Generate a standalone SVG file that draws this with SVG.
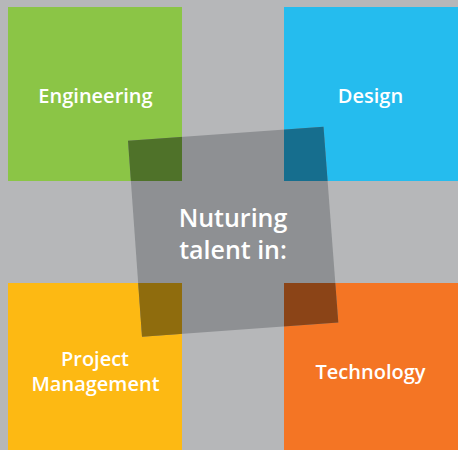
<svg xmlns="http://www.w3.org/2000/svg" width="458" height="450" viewBox="0 0 458 450">
<style>
.lbl{font-family:"Open Sans","Noto Sans","DejaVu Sans",sans-serif;font-weight:600;fill:#ffffff;text-anchor:middle}
.sm{font-size:20px}
.big{font-size:25px}
</style>
<defs>
<clipPath id="rot"><polygon points="128,140.7 323.5,126.7 338.3,322.5 142,336.7"/></clipPath>
</defs>
<rect width="458" height="450" fill="#b6b7b9"/>
<g id="engineering">
<rect x="8" y="7" width="174" height="174" fill="#8bc546"/>
<text class="lbl sm" x="95.5" y="103">Engineering</text>
</g>
<g id="design">
<rect x="284" y="7" width="174" height="174" fill="#25bcee"/>
<text class="lbl sm" x="370.5" y="103">Design</text>
</g>
<g id="project-management">
<rect x="8" y="283" width="174" height="167" fill="#fdb913"/>
<text class="lbl sm" x="95" y="366">Project</text>
<text class="lbl sm" x="95.5" y="391">Management</text>
</g>
<g id="technology">
<rect x="284" y="283" width="174" height="167" fill="#f47524"/>
<text class="lbl sm" x="370.5" y="379">Technology</text>
</g>
<g id="center">
<polygon points="128,140.7 323.5,126.7 338.3,322.5 142,336.7" fill="#8e9093"/>
<g clip-path="url(#rot)">
<rect x="8" y="7" width="174" height="174" fill="#4f7229"/>
<rect x="284" y="7" width="174" height="174" fill="#166e8e"/>
<rect x="8" y="283" width="174" height="167" fill="#8f6c0d"/>
<rect x="284" y="283" width="174" height="167" fill="#8b4417"/>
</g>
<text class="lbl big" x="233" y="227">Nuturing</text>
<text class="lbl big" x="233" y="258.5">talent in:</text>
</g>
</svg>
